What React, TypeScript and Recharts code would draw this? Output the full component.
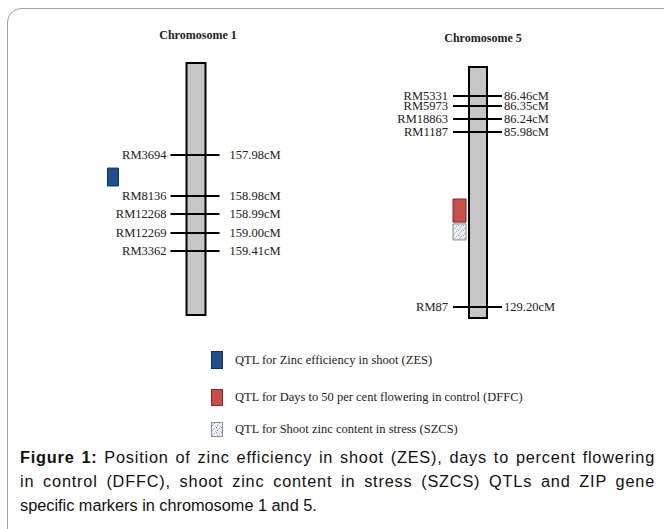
import React from "react";
import { ComposedChart, Scatter, XAxis, YAxis, ReferenceArea } from "recharts";

// marker names, genetic positions (cM) and the drawn position along the chromosome (% of its length)
const chr1Markers = ["RM3694", "RM8136", "RM12268", "RM12269", "RM3362"];
const chr1CM = [157.98, 158.98, 158.99, 159.0, 159.41];
const chr1MapPos = [36.5, 52.8, 59.9, 67.5, 74.6];

const chr5Markers = ["RM5331", "RM5973", "RM18863", "RM1187", "RM87"];
const chr5CM = [86.46, 86.35, 86.24, 85.98, 129.2];
const chr5MapPos = [11.6, 15.5, 20.7, 25.9, 95.6];

// QTL intervals, drawn position along the chromosome (% of its length)
const chr1Qtls = [{ key: "ZES", from: 41.7, to: 48.8 }];
const chr5Qtls = [
  { key: "DFFC", from: 52.6, to: 61.8 },
  { key: "SZCS", from: 62.5, to: 68.9 },
];

const legendKeys = ["ZES", "DFFC", "SZCS"];
const legendLabels = [
  "QTL for Zinc efficiency in shoot (ZES)",
  "QTL for Days to 50 per cent flowering in control (DFFC)",
  "QTL for Shoot zinc content in stress (SZCS)",
];

const captionLines = [
  "Position of zinc efficiency in shoot (ZES), days to percent flowering",
  "in control (DFFC), shoot zinc content in stress (SZCS) QTLs and ZIP gene",
  "specific markers in chromosome 1 and 5.",
];

const qtlStyle: Record<string, { fill: string; stroke: string }> = {
  ZES: { fill: "#1f4e8a", stroke: "#14325a" },
  DFFC: { fill: "#c84e4c", stroke: "#7d2c2b" },
  SZCS: { fill: "url(#dots)", stroke: "#8a8f96" },
};

const serif = "'Liberation Serif', 'Times New Roman', serif";

function Speckle({ id }: { id: string }) {
  return (
    <pattern id={id} width="5" height="5" patternUnits="userSpaceOnUse">
      <rect width="5" height="5" fill="#eef1f5" />
      <rect x="0" y="0" width="1" height="1" fill="#8e99aa" />
      <rect x="3" y="1" width="1" height="1" fill="#a3acba" />
      <rect x="1" y="3" width="1" height="1" fill="#9aa4b4" />
      <rect x="4" y="4" width="1" height="1" fill="#b6bdc8" />
      <rect x="2" y="2" width="1" height="1" fill="#c4cad3" />
    </pattern>
  );
}

type ChromProps = {
  left: number;
  top: number;
  bottom: number;
  markers: string[];
  cM: number[];
  mapPos: number[];
  qtls: { key: string; from: number; to: number }[];
  halfWidth: number;
  tickL: number;
  tickR: number;
  labelL: number;
  labelR: number;
  qtlX: [number, number];
};

const H = 340;

function Chromosome(p: ChromProps) {
  const data = p.markers.map((m, i) => ({ x: 0, y: p.mapPos[i], name: m, cM: p.cM[i] }));
  const tick = (s: any) => {
    const { cx, cy, payload } = s;
    return (
      <g>
        <line x1={cx + p.tickL} x2={cx + p.tickR} y1={cy} y2={cy} stroke="#000" strokeWidth={2} />
        <text x={cx + p.labelL} y={cy} textAnchor="end" dominantBaseline="central"
          fontFamily={serif} fontSize={12.5} fill="#222">{payload.name}</text>
        <text x={cx + p.labelR} y={cy} textAnchor="start" dominantBaseline="central"
          fontFamily={serif} fontSize={12.5} fill="#222">{payload.cM.toFixed(2) + "cM"}</text>
      </g>
    );
  };
  return (
    <div style={{ position: "absolute", left: p.left, top: 0 }}>
      <ComposedChart width={280} height={H} data={data}
        margin={{ top: p.top, bottom: H - p.bottom, left: 0, right: 0 }}>
        <defs>
          <Speckle id="dots" />
        </defs>
        <XAxis type="number" dataKey="x" domain={[-140, 140]} hide />
        <YAxis type="number" dataKey="y" domain={[0, 100]} reversed hide />
        <ReferenceArea x1={-p.halfWidth} x2={p.halfWidth} y1={0} y2={100}
          fill="#c6c6c6" fillOpacity={1} stroke="#000" strokeWidth={2} />
        {p.qtls.map((q) => (
          <ReferenceArea key={q.key} x1={p.qtlX[0]} x2={p.qtlX[1]} y1={q.from} y2={q.to}
            fill={qtlStyle[q.key].fill} fillOpacity={1} stroke={qtlStyle[q.key].stroke} strokeWidth={1} />
        ))}
        <Scatter data={data} shape={tick} isAnimationActive={false} />
      </ComposedChart>
    </div>
  );
}

export default function App() {
  return (
    <div style={{ position: "absolute", left: 0, top: 0, width: 664, height: 529, overflow: "hidden", background: "#fff" }}>
      <div style={{ position: "absolute", left: 7, top: 8, width: 700, height: 600,
        border: "1.5px solid #a0a0a0", borderTopLeftRadius: 14 }} />
      <div style={{ position: "absolute", left: 148, top: 28, width: 100, textAlign: "center",
        fontFamily: serif, fontWeight: "bold", fontSize: 12, color: "#222" }}>Chromosome 1</div>
      <div style={{ position: "absolute", left: 433, top: 31, width: 100, textAlign: "center",
        fontFamily: serif, fontWeight: "bold", fontSize: 12, color: "#222" }}>Chromosome 5</div>
      <Chromosome left={55.5} top={63} bottom={315} markers={chr1Markers} cM={chr1CM} mapPos={chr1MapPos}
        qtls={chr1Qtls} halfWidth={9.5} tickL={-25.5} tickR={23.5} labelL={-29.5} labelR={33.5} qtlX={[-88.5, -77.5]} />
      <Chromosome left={338} top={67} bottom={318} markers={chr5Markers} cM={chr5CM} mapPos={chr5MapPos}
        qtls={chr5Qtls} halfWidth={9} tickL={-25} tickR={24} labelL={-30} labelR={26} qtlX={[-25, -12]} />
      {legendKeys.map((k, i) => {
        const centers = [360, 397, 429];
        const sizes = [18, 17, 15];
        const st = qtlStyle[k];
        return (
          <div key={k}>
            <svg style={{ position: "absolute", left: 211, top: centers[i] - sizes[i] / 2 }} width={12} height={sizes[i]}>
              <defs>
                <Speckle id={"ldots" + i} />
              </defs>
              <rect x={0.5} y={0.5} width={11} height={sizes[i] - 1}
                fill={k === "SZCS" ? "url(#ldots" + i + ")" : st.fill} stroke={st.stroke} />
            </svg>
            <div style={{ position: "absolute", left: 235, top: centers[i] - 9, lineHeight: "18px",
              fontFamily: serif, fontSize: 12.5, color: "#222", whiteSpace: "nowrap" }}>{legendLabels[i]}</div>
          </div>
        );
      })}
      <div style={{ position: "absolute", left: 20, top: 445, width: 635, fontFamily: "'Liberation Sans', Arial, sans-serif",
        fontSize: 16.3, lineHeight: "24px", color: "#111" }}>
        {captionLines.map((line, i) => (
          <div key={i} style={{ whiteSpace: "nowrap", letterSpacing: i < 2 ? 0.8 : 0,
            textAlign: i < 2 ? "justify" : "left", textAlignLast: i < 2 ? "justify" : "left" } as any}>
            {i === 0 ? <b>Figure 1: </b> : null}{line}
          </div>
        ))}
      </div>
    </div>
  );
}
